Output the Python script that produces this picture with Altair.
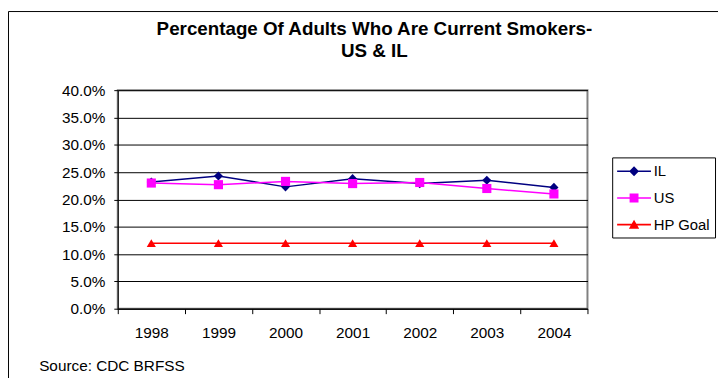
import altair as alt
import pandas as pd

years = [1998, 1999, 2000, 2001, 2002, 2003, 2004]
il = [23.2, 24.3, 22.3, 23.8, 22.9, 23.5, 22.2]
us = [23.0, 22.7, 23.3, 22.9, 23.1, 22.0, 21.0]
hp_goal = [12.0, 12.0, 12.0, 12.0, 12.0, 12.0, 12.0]
series = ["IL", "US", "HP Goal"]
colors = ["#000080", "#FF00FF", "#FF0000"]
shapes = ["diamond", "square", "triangle-up"]
y_ticks = [0, 5, 10, 15, 20, 25, 30, 35, 40]
title_lines = ["Percentage Of Adults Who Are Current Smokers-", "US & IL"]
source = "Source: CDC BRFSS"

rows = []
for name, vals in zip(series, [il, us, hp_goal]):
    for yr, v in zip(years, vals):
        rows.append({"year": yr, "series": name, "value": v})
df = pd.DataFrame(rows)

W, H = 475, 221
FONT = "Liberation Sans"
FS = 15.5
x_edges = [y - 0.5 for y in years] + [years[-1] + 0.5]

# legend symbols: a line segment with the marker in its middle
LINE = "M-1,-0.09H2.8V0.09H-1Z "
legend_paths = [
    LINE + "M0.35,0L0.9,-0.55L1.45,0L0.9,0.55Z",
    LINE + "M0.4,-0.5H1.4V0.5H0.4Z",
    LINE + "M0.9,-0.55L1.48,0.45L0.32,0.45Z",
]

x_enc = alt.X(
    "year:Q",
    scale=alt.Scale(domain=[x_edges[0], x_edges[-1]], nice=False, zero=False),
    axis=alt.Axis(
        values=x_edges,
        labelExpr=f"datum.value > {years[-1]} ? '' : format(datum.value + 0.5, 'd')",
        labelOffset=W / len(years) / 2,
        labelFlush=False,
        labelOverlap=False,
        labelAlign="center",
        labelBaseline="top",
        labelPadding=12,
        tickSize=5,
        grid=False,
        domainColor="black",
        tickColor="black",
        labelFontSize=FS,
        labelFont=FONT,
        labelColor="black",
        title=source,
        titleX=-80,
        titleY=62,
        titleAlign="left",
        titleBaseline="alphabetic",
        titleFontWeight="normal",
        titleFontSize=FS,
        titleFont=FONT,
        titleColor="black",
    ),
)
y_enc = alt.Y(
    "value:Q",
    scale=alt.Scale(domain=[0, 40], nice=False),
    axis=alt.Axis(
        values=y_ticks,
        labelExpr="format(datum.value, '.1f') + '%'",
        grid=True,
        gridColor="black",
        gridWidth=1,
        tickSize=4,
        labelPadding=9,
        domainColor="black",
        tickColor="black",
        labelFontSize=FS,
        labelFont=FONT,
        labelColor="black",
        title=None,
    ),
)

color_plain = alt.Color("series:N", scale=alt.Scale(domain=series, range=colors), legend=None)

lines = alt.Chart(df).mark_line(strokeWidth=1.5).encode(x=x_enc, y=y_enc, color=color_plain)
points = alt.Chart(df).mark_point(filled=True, opacity=1, size=85, strokeWidth=0).encode(
    x=x_enc,
    y=y_enc,
    color=color_plain,
    shape=alt.Shape("series:N", scale=alt.Scale(domain=series, range=shapes), legend=None),
)

leg = dict(
    title=None,
    orient="none",
    legendX=500,
    legendY=68,
    strokeColor="black",
    fillColor="white",
    padding=5,
    symbolSize=324,
    symbolStrokeWidth=0,
    symbolOpacity=1,
    labelOffset=19,
    rowPadding=10,
    labelFontSize=15,
    labelFont=FONT,
    labelColor="black",
)
legend_layer = alt.Chart(df).transform_filter("false").mark_point(filled=True, opacity=1).encode(
    color=alt.Color("series:N", scale=alt.Scale(domain=series, range=colors), legend=alt.Legend(**leg)),
    shape=alt.Shape("series:N", scale=alt.Scale(domain=series, range=legend_paths), legend=alt.Legend(**leg)),
)

frame_df = pd.DataFrame({"k": [0]})
frame_top = alt.Chart(frame_df).mark_rule(color="black", strokeWidth=1, clip=False).encode(
    x=alt.value(-110.5), x2=alt.value(W + 140), y=alt.value(-79.5)
)
frame_left = alt.Chart(frame_df).mark_rule(color="black", strokeWidth=1, clip=False).encode(
    x=alt.value(-110.5), y=alt.value(-79.5), y2=alt.value(H + 80)
)

chart = (
    alt.layer(frame_top, frame_left, lines, points, legend_layer)
    .resolve_scale(color="independent", shape="independent")
    .properties(
        width=W,
        height=H,
        autosize=alt.AutoSizeParams(type="none"),
        padding={"left": 111, "top": 81, "right": 132, "bottom": 68},
        title=alt.TitleParams(
            text=title_lines,
            font=FONT,
            fontSize=19,
            fontWeight="bold",
            color="black",
            anchor="middle",
            frame="group",
            dx=22,
            dy=50,
            offset=0,
            lineHeight=22,
        ),
    )
    .configure(background="white")
    .configure_view(fill="#C0C0C0", stroke="#808080", strokeWidth=2)
)

chart.save("out.html", embed_options={"renderer": "svg", "actions": False})
